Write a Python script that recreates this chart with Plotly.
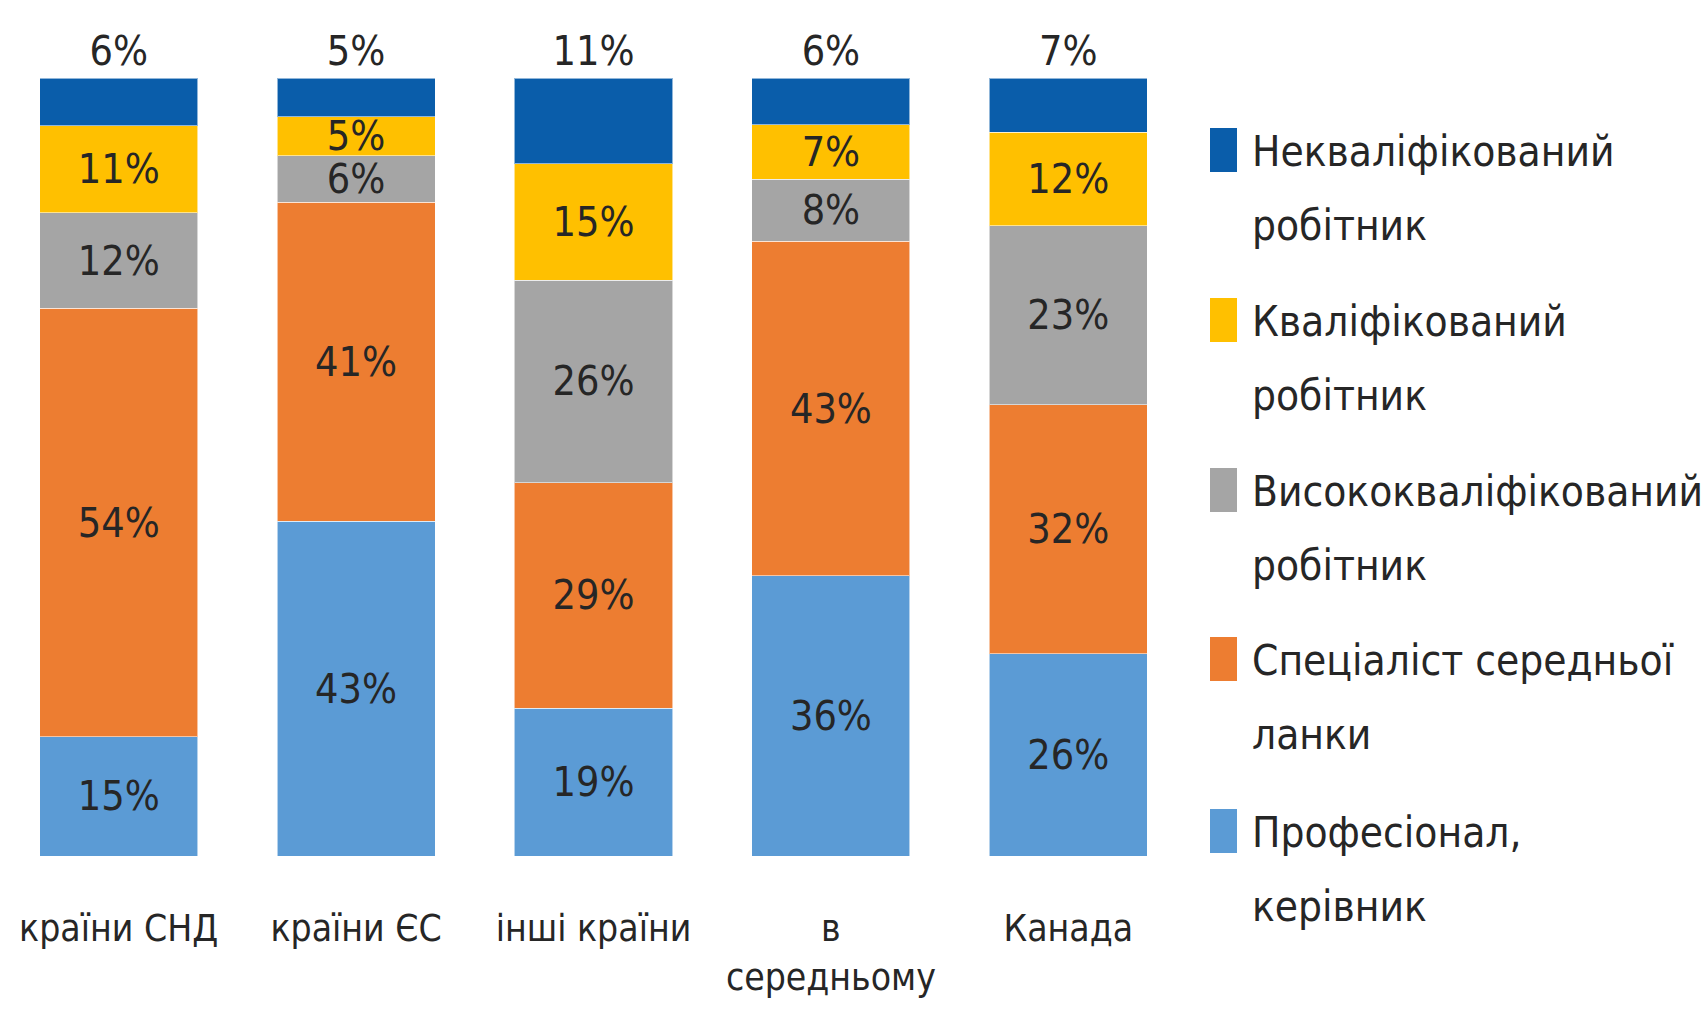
import plotly.graph_objects as go

# Destination groups (x categories)
categories = ["країни СНД", "країни ЄС", "інші країни", "в<br>середньому", "Канада"]

# Share of migrants by qualification level, % (stacked bottom to top)
professional = [15, 43, 19, 36, 26]
mid_level = [54, 41, 29, 43, 32]
highly_skilled = [12, 6, 26, 8, 23]
skilled = [11, 5, 15, 7, 12]
unskilled = [6, 5, 11, 6, 7]

series_names = [
    "Професіонал,<br>керівник",
    "Спеціаліст середньої<br>ланки",
    "Висококваліфікований<br>робітник",
    "Кваліфікований<br>робітник",
    "Некваліфікований<br>робітник",
]
series_values = [professional, mid_level, highly_skilled, skilled, unskilled]
series_colors = ["#5B9BD5", "#ED7D31", "#A5A5A5", "#FFC000", "#0A5DAA"]

FONT = "DejaVu Sans Condensed, Liberation Sans Narrow, DejaVu Sans, sans-serif"
TEXT_COLOR = "#262626"
LABEL_SIZE = 41

W, H = 1702, 1018
ML, MR, MT, MB = 0, 515, 78, 162
PW, PH = W - ML - MR, H - MT - MB

fig = go.Figure()
for i, (name, vals, col) in enumerate(zip(series_names, series_values, series_colors)):
    top = i == len(series_names) - 1
    fig.add_trace(go.Bar(
        x=categories,
        y=vals,
        name=name,
        marker=dict(color=col, line=dict(width=1, color="rgba(255,255,255,0.55)")),
        text=[f"{v}%" for v in vals],
        textposition="outside" if top else "inside",
        insidetextanchor="middle",
        constraintext="none",
        cliponaxis=False,
        textfont=dict(family=FONT, size=LABEL_SIZE, color=TEXT_COLOR),
        showlegend=False,
        hoverinfo="skip",
    ))

fig.update_layout(
    width=W,
    height=H,
    margin=dict(l=ML, r=MR, t=MT, b=MB, autoexpand=False),
    barmode="stack",
    barnorm="percent",
    bargap=0.334,
    plot_bgcolor="white",
    paper_bgcolor="white",
    uniformtext=dict(minsize=LABEL_SIZE, mode="show"),
    font=dict(family=FONT, color=TEXT_COLOR),
)
fig.update_xaxes(
    showline=False, showgrid=False, zeroline=False,
    tickangle=0, automargin=False,
    ticks="outside", ticklen=40, tickcolor="rgba(0,0,0,0)",
    tickfont=dict(family=FONT, size=37, color=TEXT_COLOR),
)
fig.update_yaxes(range=[0, 100], visible=False, automargin=False)


# Legend drawn beside the plot: tall colour swatch plus two-line label
def px_x(px):
    return (px - ML) / PW


def px_y(py):
    return (H - MB - py) / PH


legend_first_line = [150, 320, 490, 659, 831]  # vertical centre of swatch / first line, px
line_step = 74
legend_order = list(range(len(series_names)))[::-1]
for row, idx in enumerate(legend_order):
    yc = legend_first_line[row]
    fig.add_shape(
        type="rect", xref="paper", yref="paper",
        x0=px_x(1210), x1=px_x(1237), y0=px_y(yc + 22), y1=px_y(yc - 22),
        fillcolor=series_colors[idx], line=dict(width=0),
    )
    for k, part in enumerate(series_names[idx].split("<br>")):
        fig.add_annotation(
            xref="paper", yref="paper",
            x=px_x(1250), y=px_y(yc + 1 + k * line_step),
            xanchor="left", yanchor="middle",
            text=part, showarrow=False,
            font=dict(family=FONT, size=42, color=TEXT_COLOR),
        )

fig.write_html("out.html")
